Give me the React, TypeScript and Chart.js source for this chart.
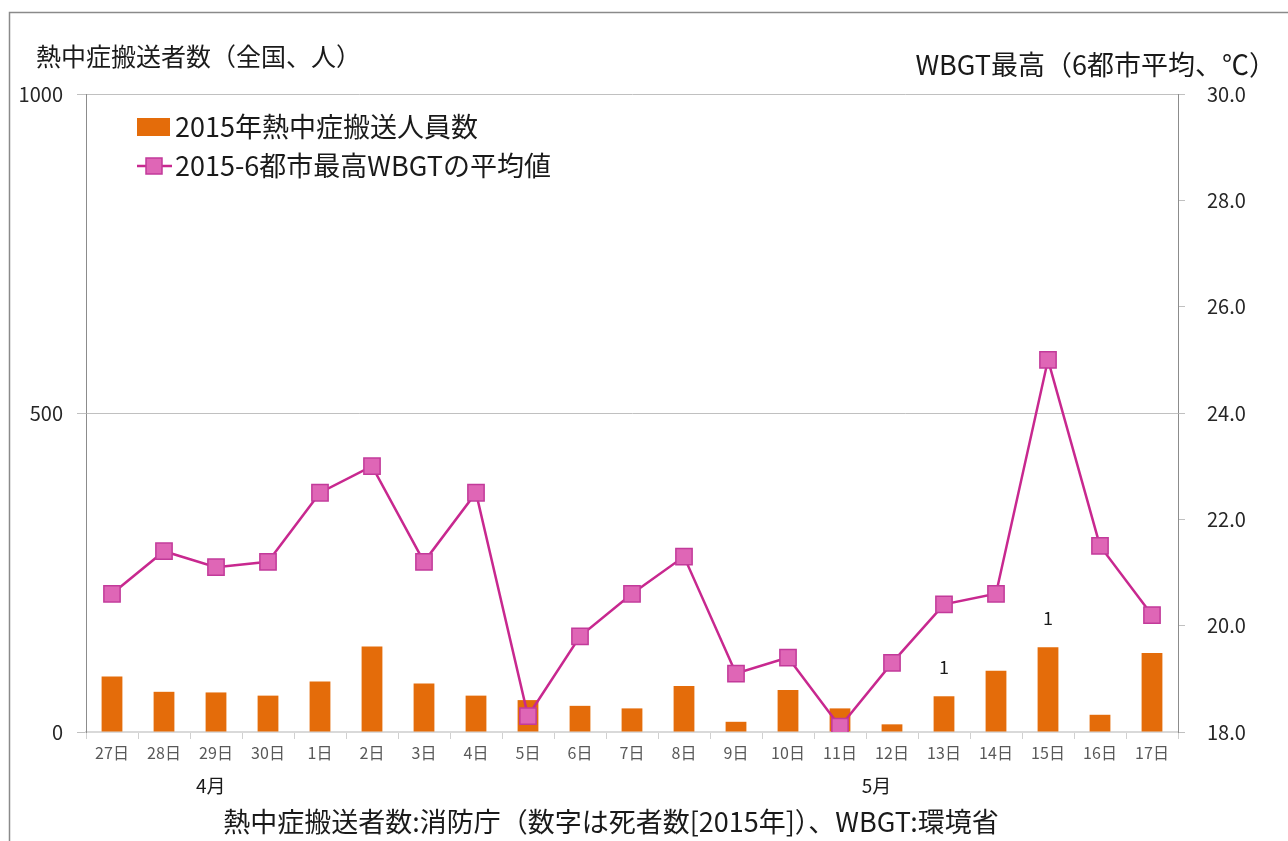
import React, { useEffect, useRef } from "react";
import { Chart, registerables } from "chart.js";

Chart.register(...registerables);

const categories = ["27日", "28日", "29日", "30日", "1日", "2日", "3日", "4日", "5日", "6日", "7日", "8日", "9日", "10日", "11日", "12日", "13日", "14日", "15日", "16日", "17日"];
const transported = [87, 63, 62, 57, 79, 134, 76, 57, 50, 41, 37, 72, 16, 66, 37, 12, 56, 96, 133, 27, 124];
const wbgt = [20.6, 21.4, 21.1, 21.2, 22.5, 23.0, 21.2, 22.5, 18.3, 19.8, 20.6, 21.3, 19.1, 19.4, 18.1, 19.3, 20.4, 20.6, 25.0, 21.5, 20.2];
const deaths: (number | null)[] = [null, null, null, null, null, null, null, null, null, null, null, null, null, null, null, null, 1, null, 1, null, null];
const leftTicks = [0, 500, 1000];
const rightTicks = [18, 20, 22, 24, 26, 28, 30];
const months = [{ label: "4月", at: 1.9 }, { label: "5月", at: 14.7 }];
const leftTitle = "熱中症搬送者数（全国、人）";
const rightTitle = "WBGT最高（6都市平均、℃）";
const legendBar = "2015年熱中症搬送人員数";
const legendLine = "2015-6都市最高WBGTの平均値";
const caption = "熱中症搬送者数:消防庁（数字は死者数[2015年]）、WBGT:環境省";

const FONT = "'Noto Sans CJK JP', 'Noto Sans', sans-serif";
const ORANGE = "#E46C0A";
const LINE = "#C8288F";
const MARK_FILL = "#DF66B6";
const MARK_BORDER = "#C23A9A";

export default function App() {
  const ref = useRef<HTMLCanvasElement>(null);
  useEffect(() => {
    const decor = {
      id: "decor",
      beforeDraw(chart: any) {
        const ctx = chart.ctx;
        ctx.save();
        ctx.fillStyle = "#fff";
        ctx.fillRect(0, 0, chart.width, chart.height);
        ctx.strokeStyle = "#8a8a8a";
        ctx.lineWidth = 1.5;
        ctx.strokeRect(9.5, 12.5, 1400, 900);
        ctx.restore();
      },
      afterDraw(chart: any) {
        const ctx = chart.ctx;
        ctx.save();
        ctx.fillStyle = "#1a1a1a";
        ctx.textBaseline = "middle";
        ctx.font = `25px ${FONT}`;
        ctx.textAlign = "left";
        ctx.fillText(leftTitle, 36, 56);
        ctx.font = `27px ${FONT}`;
        ctx.textAlign = "right";
        ctx.fillText(rightTitle, 1276, 65);
        // legend
        ctx.textAlign = "left";
        ctx.fillStyle = ORANGE;
        ctx.fillRect(137, 118, 33, 18);
        ctx.fillStyle = "#1a1a1a";
        ctx.font = `27px ${FONT}`;
        ctx.fillText(legendBar, 175, 127);
        ctx.strokeStyle = LINE;
        ctx.lineWidth = 2.5;
        ctx.beginPath();
        ctx.moveTo(137, 166);
        ctx.lineTo(172, 166);
        ctx.stroke();
        ctx.fillStyle = MARK_FILL;
        ctx.strokeStyle = MARK_BORDER;
        ctx.lineWidth = 1.5;
        ctx.fillRect(146, 158, 16, 16);
        ctx.strokeRect(146, 158, 16, 16);
        ctx.fillStyle = "#1a1a1a";
        ctx.fillText(legendLine, 175, 166);
        // months
        const xs = chart.scales.x;
        ctx.textAlign = "center";
        ctx.font = `19px ${FONT}`;
        months.forEach((m) => {
          const i0 = Math.floor(m.at);
          const f = m.at - i0;
          const p0 = xs.getPixelForValue(i0);
          const p1 = xs.getPixelForValue(i0 + 1);
          ctx.fillText(m.label, p0 + (p1 - p0) * f, 786);
        });
        // caption
        ctx.font = `27px ${FONT}`;
        ctx.fillText(caption, 611, 822);
        // deaths
        const meta = chart.getDatasetMeta(1);
        ctx.font = `18px ${FONT}`;
        deaths.forEach((d, i) => {
          if (d == null) return;
          const el = meta.data[i];
          ctx.fillText(String(d), el.x, el.y - 29);
        });
        ctx.restore();
      },
    };

    const chart = new Chart(ref.current!, {
      type: "bar",
      data: {
        labels: categories,
        datasets: [
          {
            type: "line",
            label: legendLine,
            data: wbgt,
            yAxisID: "y1",
            borderColor: LINE,
            borderWidth: 2.5,
            backgroundColor: MARK_FILL,
            pointStyle: "rect",
            pointRadius: 11.5,
            pointBackgroundColor: MARK_FILL,
            pointBorderColor: MARK_BORDER,
            pointBorderWidth: 1.5,
            tension: 0,
            order: 0,
          } as any,
          {
            type: "bar",
            label: legendBar,
            data: transported,
            yAxisID: "y",
            backgroundColor: ORANGE,
            barPercentage: 0.4,
            categoryPercentage: 1,
            order: 1,
          },
        ],
      },
      options: {
        animation: false,
        responsive: false,
        layout: { padding: { top: 94, left: 0, right: 0, bottom: 0 } },
        plugins: { legend: { display: false }, tooltip: { enabled: false }, title: { display: false } },
        scales: {
          x: {
            offset: true,
            grid: { offset: true, drawOnChartArea: false, drawTicks: true, tickLength: 7, color: "#d0d0d0" },
            border: { color: "#d9d9d9", width: 2 },
            ticks: { font: { family: FONT, size: 16 }, color: "#595959", padding: 4, maxRotation: 0, autoSkip: false },
            afterFit: (s: any) => { s.height = 109; },
          },
          y: {
            position: "left",
            min: 0,
            max: 1000,
            afterBuildTicks: (s: any) => { s.ticks = leftTicks.map((v) => ({ value: v })); },
            grid: { color: "#c0c0c0", tickLength: 9, lineWidth: 1 },
            border: { color: "#8c8c8c", width: 1 },
            ticks: { font: { family: FONT, size: 20 }, color: "#262626", padding: 14, callback: (v: any) => String(v) },
            afterFit: (s: any) => { s.width = 86; },
          },
          y1: {
            position: "right",
            min: 18,
            max: 30,
            afterBuildTicks: (s: any) => { s.ticks = rightTicks.map((v) => ({ value: v })); },
            grid: { drawOnChartArea: false, tickLength: 7, color: "#c0c0c0" },
            border: { color: "#8c8c8c", width: 1 },
            ticks: { font: { family: FONT, size: 20 }, color: "#262626", padding: 22, callback: (v: any) => Number(v).toFixed(1) },
            afterFit: (s: any) => { s.width = 110; },
          },
        },
      },
      plugins: [decor],
    });
    return () => chart.destroy();
  }, []);

  return (
    <div style={{ position: "fixed", left: 0, top: 0, width: 1288, height: 841, background: "#fff" }}>
      <canvas ref={ref} width={1288} height={841} style={{ display: "block" }} />
    </div>
  );
}
